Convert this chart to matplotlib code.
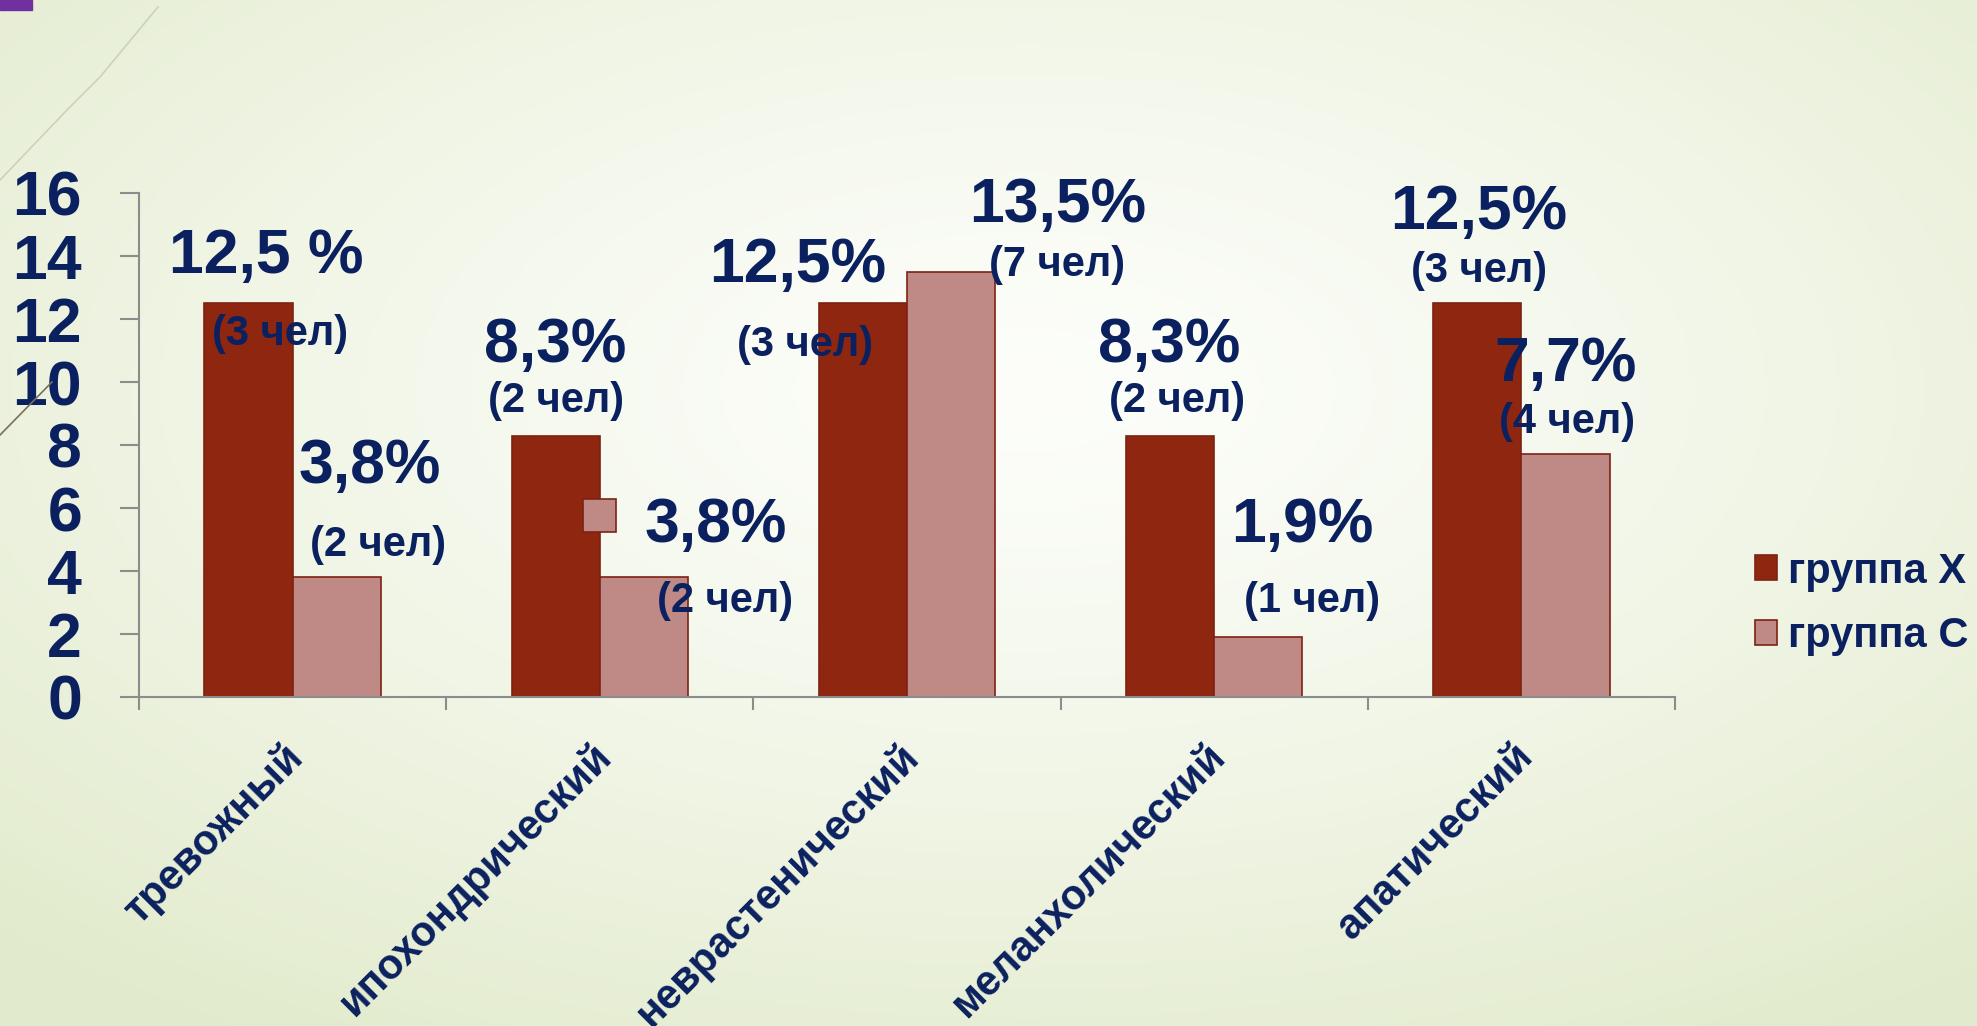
import numpy as np
import matplotlib
matplotlib.use('Agg')
import matplotlib.pyplot as plt
import matplotlib.transforms as mtransforms
from matplotlib.patches import Rectangle
from matplotlib.lines import Line2D

plt.rcParams['font.family'] = ['Liberation Sans', 'DejaVu Sans']
plt.rcParams['font.weight'] = 'bold'

# данные
categories = ['тревожный', 'ипохондрический', 'неврастенический',
              'меланхолический', 'апатический']
group_x = [12.5, 8.3, 12.5, 8.3, 12.5]
group_c = [3.8, 3.8, 13.5, 1.9, 7.7]
series_names = ['группа Х', 'группа С']
pct_labels = ['12,5 %', '3,8%', '8,3%', '3,8%', '12,5%',
              '13,5%', '8,3%', '1,9%', '12,5%', '7,7%']
cnt_labels = ['(3 чел)', '(2 чел)', '(2 чел)', '(2 чел)', '(3 чел)',
              '(7 чел)', '(2 чел)', '(1 чел)', '(3 чел)', '(4 чел)']
y_ticks = [0, 2, 4, 6, 8, 10, 12, 14, 16]

# расположение подписей (x, y процента, x, y числа человек)
label_pos = [(-0.086, 13.46, -0.041, 11.52), (0.252, 6.79, 0.278, 4.83),
             (0.855, 10.63, 0.858, 9.40), (1.379, 4.92, 1.409, 3.05),
             (1.643, 13.17, 1.669, 11.17), (2.490, 15.08, 2.487, 13.71),
             (2.855, 10.63, 2.878, 9.40), (3.288, 4.92, 3.318, 3.05),
             (3.862, 14.86, 3.862, 13.52), (4.145, 10.03, 4.148, 8.73)]

NAVY = '#0b215f'
COL_X = '#8e2610'
COL_C = '#bf8a86'
EDGE = '#7d2212'
GRID = '#8c8c8c'

fig = plt.figure(figsize=(19.77, 10.26), dpi=100)

# фон - мягкий градиент
bg = fig.add_axes([0, 0, 1, 1], zorder=-10)
yy, xx = np.mgrid[0:1:300j, 0:1:600j]
r = np.sqrt(((xx - 0.52) / 0.75) ** 2 + ((yy - 0.62) / 0.75) ** 2)
r = np.clip(r, 0, 1)
c0 = np.array([0.99, 0.995, 0.98])
c1 = np.array([0.885, 0.92, 0.80])
img = c0 + (c1 - c0) * r[..., None] ** 1.3
bg.imshow(img, extent=[0, 1, 0, 1], origin='lower', aspect='auto')
bg.set_axis_off()

# декоративные элементы слайда
fig.add_artist(Rectangle((0, 1 - 10 / 1026), 32 / 1977, 10 / 1026,
                         transform=fig.transFigure, color='#7030a0'))
fig.add_artist(Line2D(np.array([0, 67, 100, 158]) / 1977,
                      1 - np.array([180, 110, 77, 7]) / 1026,
                      transform=fig.transFigure, color='#cfd0bf', lw=1.2))
fig.add_artist(Line2D([0, 52 / 1977], [1 - 435 / 1026, 1 - 382 / 1026],
                      transform=fig.transFigure, color='#7a6f5c', lw=1.2))

ax = fig.add_axes([139 / 1977, 1 - 697 / 1026, 1536 / 1977, 504 / 1026])
ax.set_facecolor('none')

x = np.arange(len(categories))
w = 0.287
bx = ax.bar(x - w / 2, group_x, w, color=COL_X, edgecolor=EDGE, linewidth=1.2,
            label=series_names[0], zorder=2)
bc = ax.bar(x + w / 2, group_c, w, color=COL_C, edgecolor=EDGE, linewidth=1.2,
            label=series_names[1], zorder=2)

ax.set_xlim(-0.5, len(categories) - 0.5)
ax.set_ylim(0, 16)

for s in ['top', 'right']:
    ax.spines[s].set_visible(False)
for s in ['left', 'bottom']:
    ax.spines[s].set_color(GRID)
    ax.spines[s].set_linewidth(1.5)

ax.set_yticks(y_ticks)
ax.set_yticklabels([str(v) for v in y_ticks])
ax.tick_params(axis='y', length=14, width=1.5, color=GRID, pad=27,
               labelsize=45, labelcolor=NAVY)

ax.set_xticks(np.arange(len(categories) + 1) - 0.5)
ax.set_xticklabels([])
ax.tick_params(axis='x', which='major', length=9.5, width=1.5, color=GRID)
ax.set_xticks(x, minor=True)
ax.set_xticklabels(categories, minor=True, rotation=45, ha='right',
                   fontsize=30, color=NAVY)
ax.tick_params(axis='x', which='minor', length=0, pad=22)
# небольшой сдвиг подписей категорий вправо-вниз
shift = mtransforms.ScaledTranslation(14 / 72, -6 / 72, fig.dpi_scale_trans)
for lbl in ax.get_xticklabels(minor=True):
    lbl.set_transform(lbl.get_transform() + shift)

for i, (px, py, cx, cy) in enumerate(label_pos):
    ax.text(px, py, pct_labels[i], ha='center', va='baseline', fontsize=45,
            color=NAVY, zorder=5)
    ax.text(cx, cy, cnt_labels[i], ha='center', va='center', fontsize=30,
            color=NAVY, zorder=5)

# лишний квадратик легенды, как на исходном слайде
ax.add_patch(Rectangle((0.946, 5.24), 0.1075, 1.05, facecolor=COL_C,
                       edgecolor=EDGE, linewidth=1.2, zorder=3))

fig.legend(handles=[bx, bc], loc='center left',
           bbox_to_anchor=(1755 / 1977, 1 - 604 / 1026), frameon=False,
           fontsize=30, labelcolor=NAVY, handlelength=0.53, handleheight=0.53,
           handletextpad=0.26, labelspacing=0.6, borderpad=0, borderaxespad=0)

fig.savefig('out.png', dpi=100)
